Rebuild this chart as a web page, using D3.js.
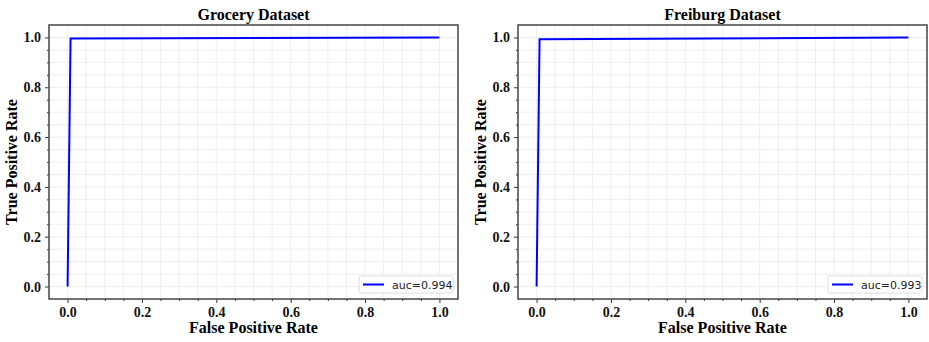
<!DOCTYPE html>
<html>
<head>
<meta charset="utf-8">
<script src="https://cdn.jsdelivr.net/npm/d3@7"></script>
<style>
  body { margin: 0; background: #fff; }
  svg { display: block; }
  .tick text { font-family: "Liberation Serif", "Times New Roman", serif; font-weight: bold; font-size: 14px; fill: #111; }
</style>
</head>
<body>
<svg id="chart" width="929" height="342"></svg>
<script>
// ROC curves
var titles = ["Grocery Dataset", "Freiburg Dataset"]
var grocFpr = [0, 0.008, 1]
var grocTpr = [0, 0.996, 1]
var freiFpr = [0, 0.008, 1]
var freiTpr = [0, 0.993, 1]
var aucLabels = ["auc=0.994", "auc=0.993"]
var tickVals = [0, 0.2, 0.4, 0.6, 0.8, 1.0]

var panels = [
  {title: titles[0], fpr: grocFpr, tpr: grocTpr, auc: aucLabels[0], left: 49, right: 458},
  {title: titles[1], fpr: freiFpr, tpr: freiTpr, auc: aucLabels[1], left: 518, right: 927}
]
var plotTop = 25, plotBottom = 299
var svg = d3.select("#chart")
var serif = '"Liberation Serif", "Times New Roman", serif'

panels.forEach(function(p) {
  var x = d3.scaleLinear().domain([-0.05, 1.05]).range([p.left, p.right])
  var y = d3.scaleLinear().domain([-0.05, 1.05]).range([plotBottom, plotTop])
  var g = svg.append("g")

  // grid, every 0.05
  var minor = d3.range(0, 1.0001, 0.05)
  g.append("g").selectAll("line").data(minor).join("line")
    .attr("x1", function(d) { return x(d) }).attr("x2", function(d) { return x(d) })
    .attr("y1", plotTop).attr("y2", plotBottom)
    .attr("stroke", "#ebebeb").attr("stroke-width", 0.8)
  g.append("g").selectAll("line").data(minor).join("line")
    .attr("y1", function(d) { return y(d) }).attr("y2", function(d) { return y(d) })
    .attr("x1", p.left).attr("x2", p.right)
    .attr("stroke", "#ebebeb").attr("stroke-width", 0.8)

  // axes
  var minorTicks = minor.filter(function(d, i) { return i % 4 != 0 })
  var xAx = g.append("g").attr("transform", "translate(0," + plotBottom + ")")
    .call(d3.axisBottom(x).tickValues(tickVals).tickFormat(d3.format(".1f")).tickSize(4).tickPadding(4))
  var xMin = g.append("g").attr("transform", "translate(0," + plotBottom + ")")
    .call(d3.axisBottom(x).tickValues(minorTicks).tickFormat("").tickSize(2))
  var yAx = g.append("g").attr("transform", "translate(" + p.left + ",0)")
    .call(d3.axisLeft(y).tickValues(tickVals).tickFormat(d3.format(".1f")).tickSize(4).tickPadding(4))
  var yMin = g.append("g").attr("transform", "translate(" + p.left + ",0)")
    .call(d3.axisLeft(y).tickValues(minorTicks).tickFormat("").tickSize(2))
  ;[xAx, xMin, yAx, yMin].forEach(function(a) {
    a.select(".domain").remove()
    a.selectAll("line").attr("stroke", "#333")
  })

  // curve
  var pts = p.fpr.map(function(f, i) { return [f, p.tpr[i]] })
  g.append("path").datum(pts)
    .attr("d", d3.line().x(function(d) { return x(d[0]) }).y(function(d) { return y(d[1]) }))
    .attr("fill", "none").attr("stroke", "#0000ff").attr("stroke-width", 2)

  // frame
  g.append("rect").attr("x", p.left).attr("y", plotTop)
    .attr("width", p.right - p.left).attr("height", plotBottom - plotTop)
    .attr("fill", "none").attr("stroke", "#444").attr("stroke-width", 1.5)

  // title and labels
  var cx = (p.left + p.right) / 2
  g.append("text").attr("x", cx).attr("y", 20).attr("text-anchor", "middle")
    .attr("font-family", serif).attr("font-weight", "bold").attr("font-size", 16).text(p.title)
  g.append("text").attr("x", cx).attr("y", 333).attr("text-anchor", "middle")
    .attr("font-family", serif).attr("font-weight", "bold").attr("font-size", 16).text("False Positive Rate")
  g.append("text").attr("transform", "translate(" + (p.left - 32) + "," + ((plotTop + plotBottom) / 2) + ") rotate(-90)")
    .attr("text-anchor", "middle")
    .attr("font-family", serif).attr("font-weight", "bold").attr("font-size", 16).text("True Positive Rate")

  // legend
  var lw = 94, lh = 17
  var lx = p.right - 5 - lw, ly = plotBottom - 6 - lh
  var leg = g.append("g").attr("transform", "translate(" + lx + "," + ly + ")")
  leg.append("rect").attr("width", lw).attr("height", lh).attr("rx", 2)
    .attr("fill", "#fff").attr("stroke", "#d6d6d6").attr("stroke-width", 0.8)
  leg.append("line").attr("x1", 4).attr("x2", 25).attr("y1", lh / 2).attr("y2", lh / 2)
    .attr("stroke", "#0000ff").attr("stroke-width", 2)
  leg.append("text").attr("x", 33).attr("y", lh / 2 + 4)
    .attr("font-family", "DejaVu Sans, sans-serif").attr("font-size", 11).attr("fill", "#222").text(p.auc)
})
</script>
</body>
</html>
